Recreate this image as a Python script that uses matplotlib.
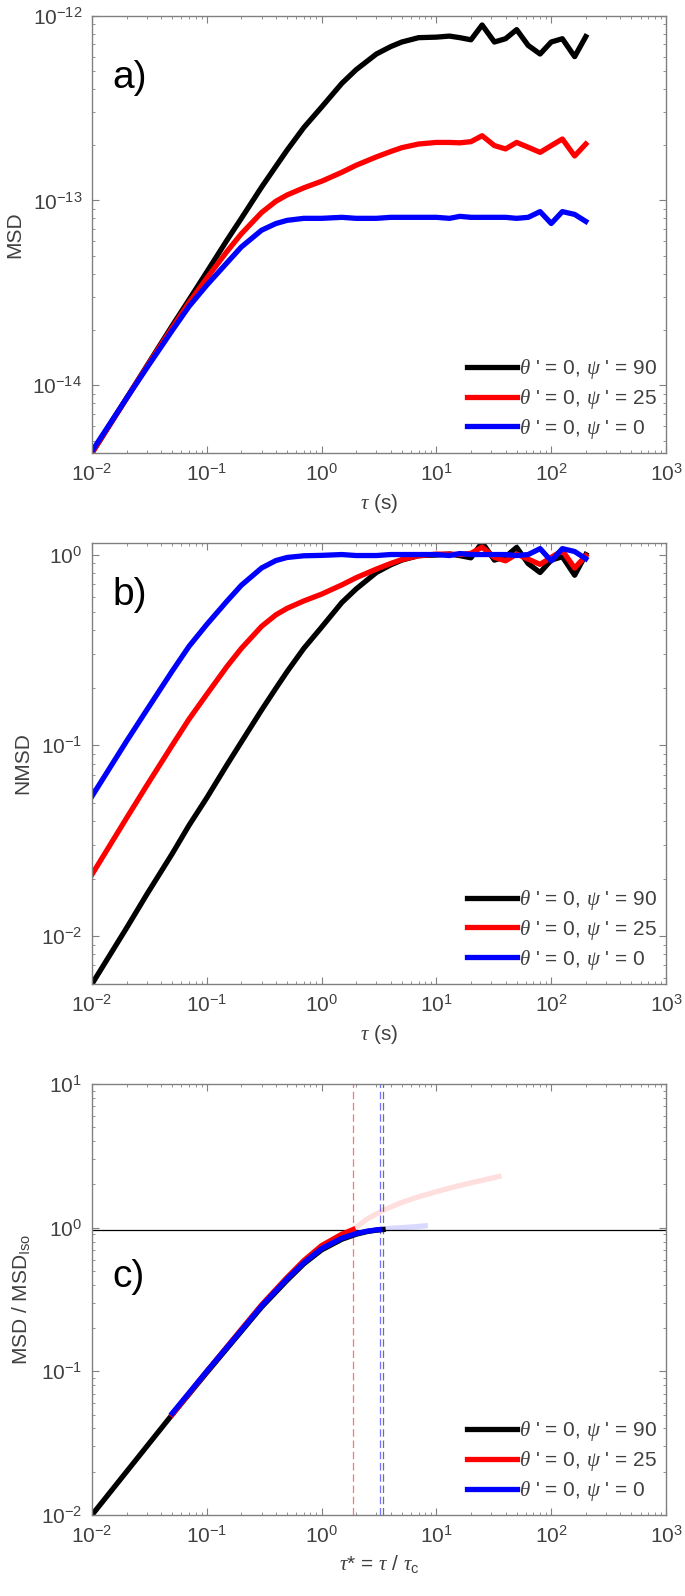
import matplotlib
matplotlib.use('Agg')
import matplotlib.pyplot as plt
from matplotlib.ticker import LogLocator, NullFormatter

plt.rcParams['font.family'] = ['Liberation Sans', 'DejaVu Sans']
plt.rcParams['mathtext.fontset'] = 'custom'
plt.rcParams['mathtext.rm'] = 'Liberation Sans'
plt.rcParams['mathtext.it'] = 'Liberation Serif:italic'
plt.rcParams['mathtext.default'] = 'regular'

# ---- data ----
tau = [0.01, 0.02, 0.03, 0.05, 0.07, 0.1, 0.15, 0.2, 0.3, 0.4, 0.5, 0.7, 1,
       1.5, 2, 3, 4, 5, 7, 10, 13, 16, 20, 25, 32, 40, 50, 63, 80, 100, 125,
       160, 200]

# panel a: MSD in units of 1e-13
msd_90 = [0.043, 0.085, 0.127, 0.21, 0.29, 0.41, 0.61, 0.80, 1.18, 1.53, 1.87,
          2.48, 3.2, 4.3, 5.1, 6.2, 6.8, 7.2, 7.6, 7.65, 7.75, 7.6, 7.4, 8.9,
          7.2, 7.5, 8.4, 6.9, 6.2, 7.2, 7.5, 6.0, 7.7]
msd_25 = [0.043, 0.085, 0.126, 0.205, 0.28, 0.38, 0.53, 0.66, 0.86, 0.99, 1.07,
          1.17, 1.27, 1.42, 1.55, 1.72, 1.84, 1.93, 2.02, 2.06, 2.06, 2.05,
          2.08, 2.24, 1.98, 1.9, 2.06, 1.94, 1.82, 1.98, 2.15, 1.74, 2.02]
msd_0 = [0.044, 0.085, 0.124, 0.198, 0.267, 0.348, 0.46, 0.56, 0.69, 0.75, 0.78,
         0.80, 0.80, 0.81, 0.80, 0.80, 0.81, 0.81, 0.81, 0.81, 0.80, 0.82,
         0.81, 0.81, 0.81, 0.81, 0.80, 0.81, 0.87, 0.75, 0.87, 0.84, 0.77]

# panel b: normalised MSD
nmsd_90 = [0.0056, 0.011, 0.0165, 0.027, 0.038, 0.053, 0.079, 0.104, 0.153,
           0.199, 0.243, 0.322, 0.416, 0.56, 0.66, 0.805, 0.883, 0.935, 0.987,
           0.994, 1.006, 0.987, 0.961, 1.156, 0.935, 0.974, 1.09, 0.896, 0.805,
           0.935, 0.974, 0.779, 1.0]
nmsd_25 = [0.021, 0.0415, 0.0615, 0.1, 0.137, 0.185, 0.259, 0.322, 0.42, 0.483,
           0.522, 0.571, 0.62, 0.693, 0.756, 0.839, 0.898, 0.941, 0.985, 1.005,
           1.005, 1.0, 1.015, 1.093, 0.966, 0.927, 1.005, 0.946, 0.888, 0.966,
           1.049, 0.849, 0.985]
nmsd_0 = [0.054, 0.105, 0.153, 0.245, 0.33, 0.43, 0.57, 0.69, 0.85, 0.93, 0.965,
          0.985, 0.99, 1.0, 0.988, 0.988, 1.0, 1.0, 1.0, 1.0, 0.988, 1.012, 1.0,
          1.0, 1.0, 1.0, 0.988, 1.0, 1.074, 0.926, 1.074, 1.037, 0.951]

# panel c: MSD / MSD_iso vs tau* = tau / tau_c
ts_90 = [0.01, 0.02, 0.05, 0.1, 0.2, 0.3, 0.5, 0.7, 1, 1.5, 2, 2.5, 3, 3.43]
r_90 = [0.01, 0.02, 0.05, 0.098, 0.19, 0.28, 0.43, 0.56, 0.70, 0.83, 0.90,
        0.94, 0.96, 0.97]
ts_25 = [0.05, 0.1, 0.2, 0.3, 0.5, 0.7, 1, 1.5, 1.88]
r_25 = [0.05, 0.1, 0.196, 0.29, 0.45, 0.59, 0.75, 0.9, 0.97]
ts_25_ext = [1.88, 2.5, 3.5, 5, 7, 10, 15, 20, 28, 35]
r_25_ext = [0.97, 1.15, 1.33, 1.5, 1.64, 1.78, 1.94, 2.05, 2.18, 2.27]
ts_0 = [0.05, 0.1, 0.2, 0.3, 0.5, 0.7, 1, 1.5, 2, 2.5, 3, 3.21]
r_0 = [0.051, 0.1, 0.193, 0.285, 0.44, 0.57, 0.715, 0.845, 0.91, 0.945, 0.965,
       0.97]
ts_0_ext = [3.21, 4, 5, 6, 7, 8]
r_0_ext = [0.97, 0.99, 1.0, 1.01, 1.02, 1.03]
tc_lines = {'r': 1.88, 'b': 3.21, 'k': 3.43}
iso_level = 0.97

labels = [r"$\mathit{\theta}$ ' = 0, $\mathit{\psi}$ ' = 90",
          r"$\mathit{\theta}$ ' = 0, $\mathit{\psi}$ ' = 25",
          r"$\mathit{\theta}$ ' = 0, $\mathit{\psi}$ ' = 0"]
colors = ['#000000', '#ff0000', '#0000ff']

FS = 15
TXT = '#404040'
LW = 3.8

fig = plt.figure(figsize=(6.85, 15.96), dpi=100)
ax_a = fig.add_axes([0.1343, 0.7162, 0.838, 0.2740])
ax_b = fig.add_axes([0.1343, 0.3835, 0.838, 0.2763])
ax_c = fig.add_axes([0.1343, 0.0508, 0.838, 0.2700])


def style(ax):
    ax.set_xscale('log')
    ax.set_yscale('log')
    ax.set_xlim(1e-2, 1e3)
    ax.xaxis.set_major_locator(LogLocator(base=10, numticks=12))
    ax.xaxis.set_minor_locator(LogLocator(base=10, subs=range(2, 10), numticks=12))
    ax.xaxis.set_minor_formatter(NullFormatter())
    ax.yaxis.set_minor_formatter(NullFormatter())
    ax.tick_params(which='both', direction='in', top=True, right=True,
                   colors='#808080', labelcolor=TXT, labelsize=FS)
    ax.tick_params(which='major', length=5, width=0.8, pad=7)
    ax.tick_params(which='minor', length=2.5, width=0.6)
    for s in ax.spines.values():
        s.set_color('#808080')
        s.set_linewidth(1.0)


def legend(ax):
    ax.legend(loc='lower right', bbox_to_anchor=(0.985, 0.028), frameon=False,
              fontsize=FS, handlelength=2.4, handletextpad=0.1,
              labelspacing=0.28, borderpad=0, borderaxespad=0,
              labelcolor=TXT)


# panel a
style(ax_a)
for y, c, lab in zip([msd_90, msd_25, msd_0], colors, labels):
    ax_a.plot(tau, [v * 1e-13 for v in y], color=c, lw=LW, label=lab)
ax_a.set_ylim(4.3e-15, 1e-12)
ax_a.set_ylabel('MSD', fontsize=FS, color=TXT, labelpad=6)
ax_a.set_xlabel(r'$\mathit{\tau}$ (s)', fontsize=FS, color=TXT, labelpad=5)
ax_a.text(0.035, 0.834, 'a)', transform=ax_a.transAxes, fontsize=28,
          ha='left', va='baseline')
legend(ax_a)

# panel b
style(ax_b)
for y, c, lab in zip([nmsd_90, nmsd_25, nmsd_0], colors, labels):
    ax_b.plot(tau, y, color=c, lw=LW, label=lab)
ax_b.set_ylim(0.0056, 1.15)
ax_b.set_ylabel('NMSD', fontsize=FS, color=TXT, labelpad=6)
ax_b.set_xlabel(r'$\mathit{\tau}$ (s)', fontsize=FS, color=TXT, labelpad=5)
ax_b.text(0.035, 0.86, 'b)', transform=ax_b.transAxes, fontsize=28,
          ha='left', va='baseline')
legend(ax_b)

# panel c
style(ax_c)
ax_c.plot(ts_25_ext, r_25_ext, color='#ff0000', lw=LW, alpha=0.13)
ax_c.plot(ts_0_ext, r_0_ext, color='#0000ff', lw=LW, alpha=0.15)
ax_c.axhline(iso_level, color='#000000', lw=0.9)
for c, xv in tc_lines.items():
    ax_c.axvline(xv, color=c, lw=0.9, ls=(0, (6, 3)), alpha=0.55)
ax_c.plot(ts_90, r_90, color=colors[0], lw=LW, label=labels[0])
ax_c.plot(ts_25, r_25, color=colors[1], lw=LW, label=labels[1])
ax_c.plot(ts_0, r_0, color=colors[2], lw=LW, label=labels[2])
ax_c.set_ylim(1e-2, 1e1)
ax_c.set_ylabel(r'MSD / MSD$_{Iso}$', fontsize=FS, color=TXT, labelpad=6)
ax_c.set_xlabel(r'$\mathit{\tau}$* = $\mathit{\tau}$ / $\mathit{\tau}_{c}$',
                fontsize=FS, color=TXT, labelpad=5)
ax_c.text(0.036, 0.528, 'c)', transform=ax_c.transAxes, fontsize=28,
          ha='left', va='baseline')
legend(ax_c)

fig.savefig('out.png', dpi=100)
